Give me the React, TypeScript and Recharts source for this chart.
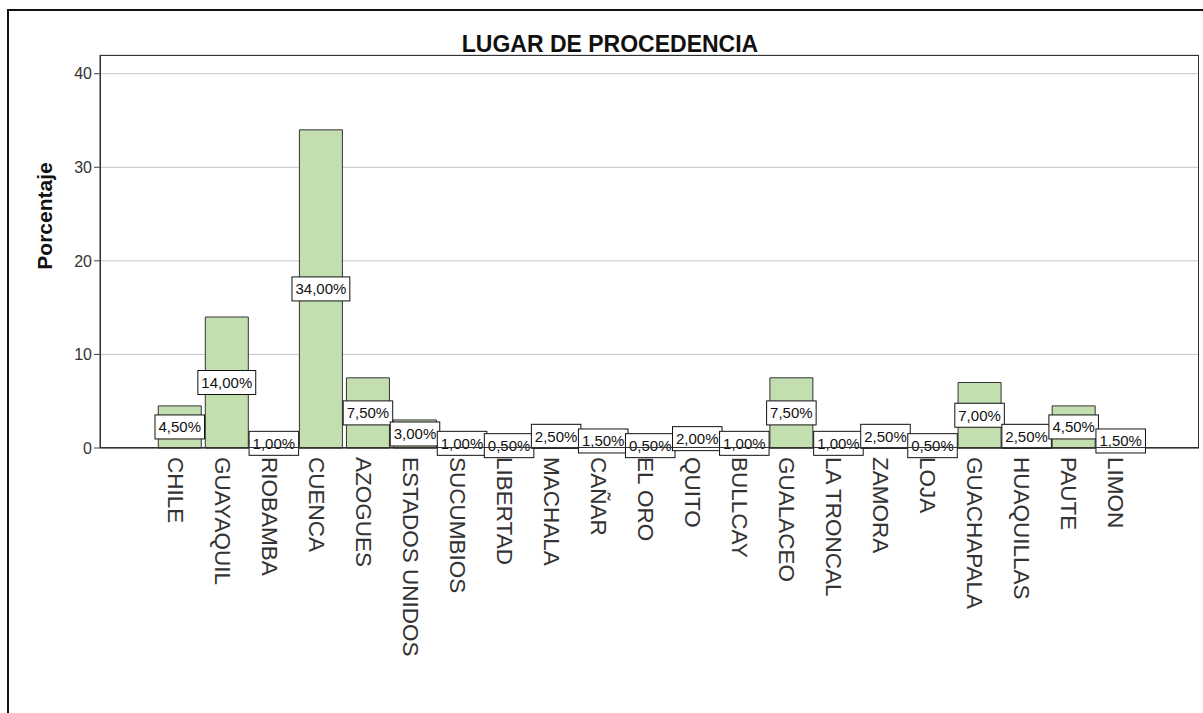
import React from "react";
import { BarChart, Bar, XAxis, YAxis, CartesianGrid, LabelList } from "recharts";

const categories = [
  "CHILE", "GUAYAQUIL", "RIOBAMBA", "CUENCA", "AZOGUES", "ESTADOS UNIDOS", "SUCUMBIOS",
  "LIBERTAD", "MACHALA", "CAÑAR", "EL ORO", "QUITO", "BULLCAY", "GUALACEO", "LA TRONCAL",
  "ZAMORA", "LOJA", "GUACHAPALA", "HUAQUILLAS", "PAUTE", "LIMON",
];
const percentages = [4.5, 14, 1, 34, 7.5, 3, 1, 0.5, 2.5, 1.5, 0.5, 2, 1, 7.5, 1, 2.5, 0.5, 7, 2.5, 4.5, 1.5];
const yTicks = [0, 10, 20, 30, 40];

const data = categories.map((name, i) => ({ name, value: percentages[i] }));

const FONT = "'Liberation Sans', Arial, sans-serif";
const W = 1203;
const H = 713;
const M = { top: 55, right: 4, left: 0, bottom: 5 };
const Y_W = 100;
const X_H = 260;

const fmt = (v: number) => v.toFixed(2).replace(".", ",") + "%";
const charW = (c: string) => (c === "," ? 0.278 : c === "%" ? 0.889 : 0.556);

// white box with the percentage, centred on the middle of the bar
const ValueBox = (props: any) => {
  const { x, y, width, height, value } = props;
  const cx = Number(x) + Number(width) / 2;
  const cy = Number(y) + Number(height) / 2;
  const t = fmt(Number(value));
  const w = t.split("").reduce((s, c) => s + charW(c), 0) * 15 + 7;
  return (
    <g>
      <rect x={cx - w / 2} y={cy - 12} width={w} height={24} fill="#fff" stroke="#111" strokeWidth={1} />
      <text x={cx} y={cy} dy="0.36em" textAnchor="middle" fontSize={15} fontFamily={FONT} fill="#111">
        {t}
      </text>
    </g>
  );
};

const XTick = (props: any) => {
  const { x, y, payload } = props;
  return (
    <text
      x={x}
      y={y}
      dx={1}
      dy={12}
      transform={`rotate(90, ${x}, ${y})`}
      textAnchor="start"
      fontSize={22.5}
      fontFamily={FONT}
      fill="#333"
    >
      {payload.value}
    </text>
  );
};

export default function App() {
  const plotW = W - M.left - M.right - Y_W;
  const plotH = H - M.top - M.bottom - X_H;
  return (
    <div style={{ position: "relative", width: W, height: H, background: "#fff", overflow: "hidden" }}>
      <style>{`html,body{margin:0;padding:0;overflow:hidden;}`}</style>
      <div
        style={{
          position: "absolute",
          left: 7,
          top: 9,
          width: W - 7,
          height: H - 9,
          borderLeft: "2px solid #111",
          borderTop: "2px solid #111",
          boxSizing: "border-box",
        }}
      />
      <div
        style={{
          position: "absolute",
          left: 610,
          top: 44,
          transform: "translate(-50%, -50%)",
          fontFamily: FONT,
          fontWeight: "bold",
          fontSize: 23,
          color: "#111",
          whiteSpace: "nowrap",
        }}
      >
        LUGAR DE PROCEDENCIA
      </div>
      <div
        style={{
          position: "absolute",
          left: 45,
          top: 216,
          transform: "translate(-50%, -50%) rotate(-90deg)",
          fontFamily: FONT,
          fontWeight: "bold",
          fontSize: 21,
          color: "#111",
          whiteSpace: "nowrap",
        }}
      >
        Porcentaje
      </div>
      <div style={{ position: "absolute", left: 0, top: 0 }}>
        <BarChart width={W} height={H} data={data} margin={M} barCategoryGap="4.8%">
          <CartesianGrid vertical={false} stroke="#c4c4c4" />
          <XAxis
            dataKey="name"
            height={X_H}
            interval={0}
            padding={{ left: 56, right: 55 }}
            tickLine={false}
            tick={<XTick />}
            axisLine={{ stroke: "#222" }}
          />
          <YAxis
            width={Y_W}
            domain={[0, 42]}
            ticks={yTicks}
            tickSize={6}
            tickMargin={2}
            tick={{ fontSize: 16, fontFamily: FONT, fill: "#333" }}
            axisLine={{ stroke: "#222" }}
            tickLine={{ stroke: "#444" }}
          />
          <Bar dataKey="value" fill="#c3dfb0" stroke="#333" strokeWidth={1} isAnimationActive={false}>
            <LabelList dataKey="value" content={<ValueBox />} />
          </Bar>
        </BarChart>
      </div>
      <div
        style={{
          position: "absolute",
          left: M.left + Y_W,
          top: M.top,
          width: plotW,
          height: plotH,
          border: "1px solid #333",
          boxSizing: "border-box",
          pointerEvents: "none",
        }}
      />
    </div>
  );
}
